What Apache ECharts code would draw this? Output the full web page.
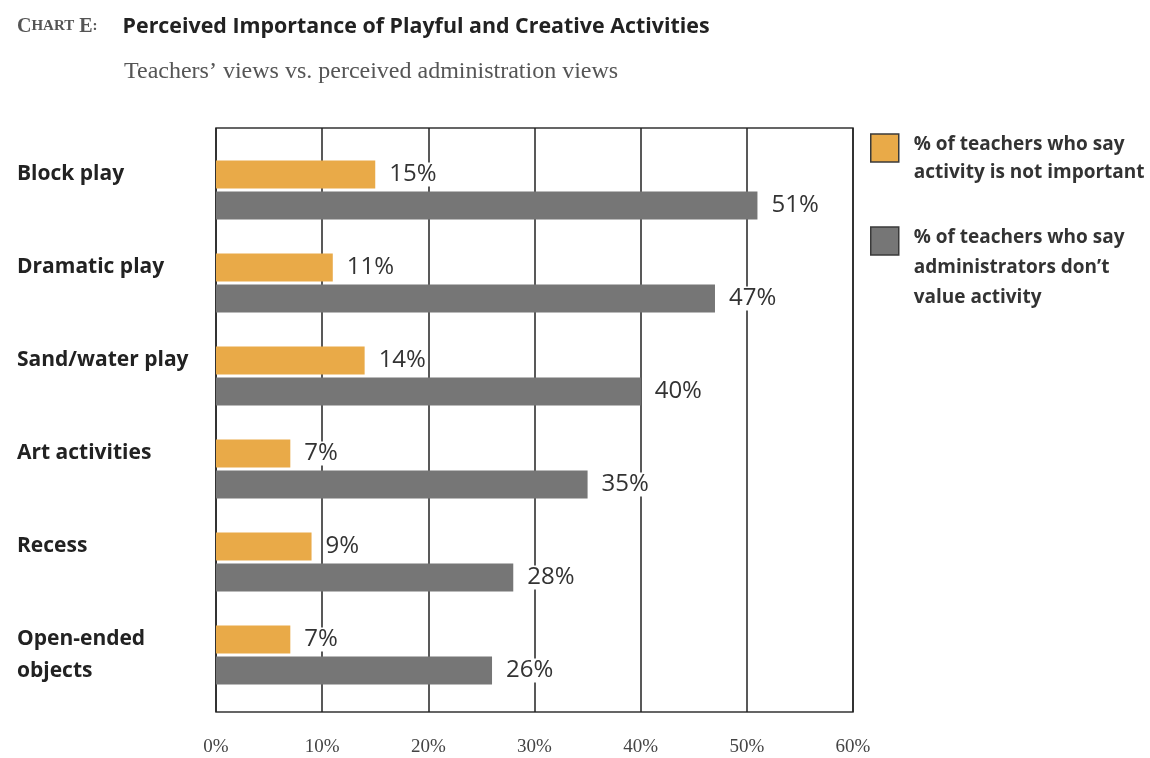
<!DOCTYPE html>
<html>
<head>
<meta charset="utf-8">
<script src="https://cdn.jsdelivr.net/npm/echarts@6/dist/echarts.min.js"></script>
<style>
  html, body { margin: 0; padding: 0; background: #ffffff; }
  #chart { width: 1150px; height: 758px; }
</style>
</head>
<body>
<div id="chart"></div>
<script>
// Activities, top to bottom
const activities = ['Block play', 'Dramatic play', 'Sand/water play', 'Art activities', 'Recess', 'Open-ended\nobjects'];
// % of teachers who say activity is not important
const notImportant = [15, 11, 14, 7, 9, 7];
// % of teachers who say administrators don't value activity
const adminNoValue = [51, 47, 40, 35, 28, 26];
// Series names shown in the legend
const seriesNames = ['% of teachers who say\nactivity is not important', '% of teachers who say\nadministrators don\u2019t\nvalue activity'];
// Value axis ticks
const tickValues = [0, 10, 20, 30, 40, 50, 60];

const ORANGE = '#E9AA48';
const GREY = '#767676';
const SANS = '"Open Sans", "Noto Sans", sans-serif';
const SERIF = '"Liberation Serif", "DejaVu Serif", serif';

const chart = echarts.init(document.getElementById('chart'), null, { renderer: 'canvas' });

const valueLabel = {
  show: true,
  position: 'right',
  distance: 12,
  formatter: p => p.value + '%',
  fontFamily: SANS,
  fontSize: 24,
  color: '#333',
  backgroundColor: '#ffffff',
  padding: [0, 2]
};

// One legend block per series so that each icon sits beside the first line
// of its (multi-line) caption: a spacer line above the caption pushes the
// caption down so its first line lands at the icon's centre.
function legendBlock(name, top, lineHeight) {
  const lines = name.split('\n').length;
  const spacer = (lines - 1) * lineHeight - 6;
  return {
    orient: 'vertical',
    left: 870,
    top: top,
    padding: 0,
    itemWidth: 28,
    itemHeight: 28,
    icon: 'rect',
    selectedMode: false,
    itemStyle: { borderColor: '#3a3a3a', borderWidth: 1.5 },
    data: [name],
    formatter: n => '{sp| }\n' + n,
    textStyle: {
      fontFamily: SANS,
      fontSize: 19,
      fontWeight: 'bold',
      color: '#333',
      lineHeight: lineHeight,
      padding: [0, 0, 0, 10],
      rich: { sp: { fontSize: 1, lineHeight: spacer } }
    }
  };
}

const option = {
  backgroundColor: '#ffffff',
  animation: false,
  title: [{
    left: 17,
    top: 16,
    padding: 0,
    text: '{sc|C}{scs|HART} {sc|E}{scs|:}{t|Perceived Importance of Playful and Creative Activities}',
    textStyle: {
      rich: {
        sc: { fontFamily: SERIF, fontSize: 20, color: '#555' },
        scs: { fontFamily: SERIF, fontSize: 15, color: '#555' },
        t: { fontFamily: SANS, fontSize: 21.4, fontWeight: 'bold', color: '#222', padding: [0, 0, 0, 25] }
      }
    }
  }, {
    left: 124,
    top: 60,
    padding: 0,
    text: 'Teachers\u2019 views vs. perceived administration views',
    textStyle: { fontFamily: SERIF, fontSize: 24, fontWeight: 'normal', color: '#555' }
  }],
  legend: [
    legendBlock(seriesNames[0], 109, 28),
    legendBlock(seriesNames[1], 169, 30)
  ],
  grid: [
    // outer frame with the vertical grid lines
    { left: 216, right: 297, top: 128, bottom: 46, show: true, borderColor: '#333', borderWidth: 1.5, backgroundColor: 'transparent', containLabel: false, outerBoundsMode: 'none' },
    // bar area
    { left: 216, right: 297, top: 143.5, height: 558, containLabel: false, outerBoundsMode: 'none' }
  ],
  xAxis: [{
    gridIndex: 0,
    type: 'value',
    min: 0,
    max: 60,
    interval: 10,
    axisLine: { show: false },
    axisTick: { show: false },
    splitLine: { show: true, lineStyle: { color: '#222', width: 1.5 } },
    axisLabel: {
      margin: 26,
      formatter: v => tickValues.includes(v) ? v + '%' : '',
      fontFamily: SERIF,
      fontSize: 19,
      color: '#444'
    }
  }, {
    gridIndex: 1,
    type: 'value',
    min: 0,
    max: 60,
    show: false
  }],
  yAxis: [{
    gridIndex: 0,
    type: 'category',
    data: activities,
    show: false
  }, {
    gridIndex: 1,
    type: 'category',
    inverse: true,
    data: activities,
    axisLine: { show: false },
    axisTick: { show: false },
    axisLabel: {
      margin: 199,
      align: 'left',
      // single-line names sit level with the upper bar of their pair
      formatter: v => v.includes('\n') ? v : v + '\n ',
      fontFamily: SANS,
      fontSize: 21,
      fontWeight: 'bold',
      color: '#222',
      lineHeight: 32
    }
  }],
  series: [{
    name: seriesNames[0],
    type: 'bar',
    xAxisIndex: 1,
    yAxisIndex: 1,
    data: notImportant,
    barWidth: 28,
    barGap: '10%',
    itemStyle: { color: ORANGE },
    label: valueLabel
  }, {
    name: seriesNames[1],
    type: 'bar',
    xAxisIndex: 1,
    yAxisIndex: 1,
    data: adminNoValue,
    barWidth: 28,
    itemStyle: { color: GREY },
    label: valueLabel
  }]
};

chart.setOption(option);
</script>
</body>
</html>
